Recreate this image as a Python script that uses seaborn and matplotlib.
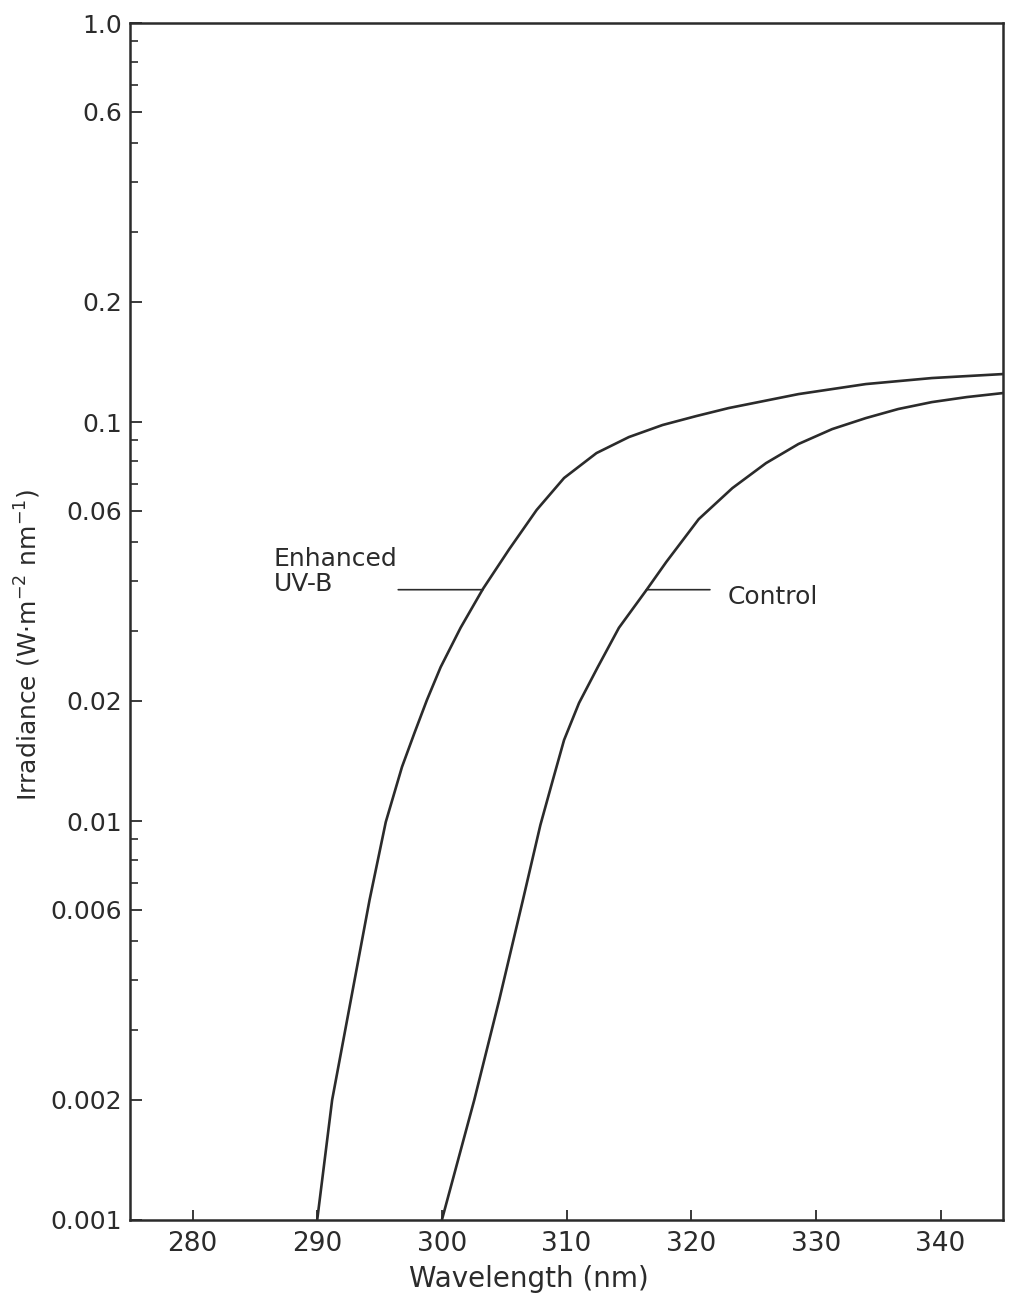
import numpy as np
import pandas as pd
import matplotlib.pyplot as plt
import matplotlib.ticker as mticker
import seaborn as sns

# Spectral irradiance
enhanced_nm = [290.0, 291.2, 292.7, 294.2, 295.5, 296.8, 297.8, 298.8, 299.9, 301.5, 303.3, 305.4,
               307.6, 309.8, 312.4, 315.0, 317.7, 320.4, 323.0, 328.6, 334.0, 339.3, 345.0]
enhanced_irr = [0.001, 0.00200, 0.00356, 0.00634, 0.00994, 0.01366, 0.01662, 0.0201, 0.0243, 0.0305,
                0.0382, 0.0480, 0.0602, 0.0724, 0.0836, 0.0917, 0.0983, 0.1035, 0.1084, 0.1175,
                0.1245, 0.1289, 0.1319]

control_nm = [300.0, 302.6, 304.6, 306.5, 307.9, 308.9, 309.8, 311.0, 312.5, 314.2, 316.4,
              318.0, 320.6, 323.3, 326.0, 328.6, 331.3, 334.0, 336.6, 339.3, 342.1, 345.0]
control_irr = [0.001, 0.00200, 0.00356, 0.00634, 0.00977, 0.01267, 0.01596, 0.01976, 0.0243, 0.0305,
               0.0379, 0.0446, 0.0571, 0.0683, 0.0789, 0.0881, 0.0960, 0.1023, 0.1078, 0.1122,
               0.1155, 0.1182]

x_ticks = [280, 290, 300, 310, 320, 330, 340]
y_ticks = [1.0, 0.6, 0.2, 0.1, 0.06, 0.02, 0.01, 0.006, 0.002, 0.001]
y_tick_labels = ["1.0", "0.6", "0.2", "0.1", "0.06", "0.02", "0.01", "0.006", "0.002", "0.001"]

df = pd.concat([
    pd.DataFrame({"wavelength": enhanced_nm, "irradiance": enhanced_irr, "series": "Enhanced UV-B"}),
    pd.DataFrame({"wavelength": control_nm, "irradiance": control_irr, "series": "Control"}),
])

sns.set_style("white")
plt.rcParams["font.family"] = ["DejaVu Sans"]
ink = "#2b2b2b"

fig = plt.figure(figsize=(10.09, 13.03), dpi=100)
ax = fig.add_axes([0.129, 0.0637, 0.865, 0.9186])

sns.lineplot(data=df, x="wavelength", y="irradiance", hue="series",
             palette={"Enhanced UV-B": ink, "Control": ink},
             estimator=None, sort=True, linewidth=1.9, legend=False, ax=ax)

ax.set_yscale("log")
ax.set_xlim(275, 345)
ax.set_ylim(0.001, 1.0)

ax.yaxis.set_major_locator(mticker.FixedLocator(y_ticks))
ax.yaxis.set_major_formatter(mticker.FixedFormatter(y_tick_labels))
ax.yaxis.set_minor_locator(mticker.LogLocator(base=10, subs=np.arange(2, 10)))
ax.yaxis.set_minor_formatter(mticker.NullFormatter())
ax.set_xticks(x_ticks)
ax.set_xticklabels([str(t) for t in x_ticks])
ax.xaxis.set_minor_locator(mticker.NullLocator())

ax.tick_params(axis="y", which="both", left=True, right=False)
ax.tick_params(axis="x", which="both", bottom=True, top=False)
ax.tick_params(axis="y", which="major", direction="in", length=8.6, width=1.3,
               labelsize=18, pad=6, colors=ink)
ax.tick_params(axis="y", which="minor", direction="in", length=5.8, width=1.2, colors=ink)
ax.tick_params(axis="x", which="major", direction="in", length=7, width=1.3,
               labelsize=19, pad=8, colors=ink)

for side in ["left", "bottom", "right", "top"]:
    ax.spines[side].set_visible(True)
    ax.spines[side].set_linewidth(1.8)
    ax.spines[side].set_color(ink)

ax.set_xlabel("Wavelength (nm)", fontsize=20, color=ink)
ax.xaxis.set_label_coords(0.457, -0.038)
ax.set_ylabel("")
fig.text(28 / 1009, 1 - 645 / 1303, "Irradiance (W\u00b7m$^{-2}$ nm$^{-1}$)",
         fontsize=18, color=ink, rotation=90, ha="center", va="center")

# curve labels with leader lines
ax.text(286.5, 0.0421, "Enhanced\nUV-B", fontsize=18, color=ink,
        ha="left", va="center", linespacing=1.05)
ax.annotate("", xy=(303.3, 0.038), xytext=(296.5, 0.038),
            arrowprops=dict(arrowstyle="-", color=ink, lw=1.2, shrinkA=0, shrinkB=0))
ax.annotate("", xy=(316.4, 0.038), xytext=(321.5, 0.038),
            arrowprops=dict(arrowstyle="-", color=ink, lw=1.2, shrinkA=0, shrinkB=0))
ax.text(322.9, 0.0364, "Control", fontsize=18, color=ink, ha="left", va="center")

fig.savefig("out.png", dpi=100, facecolor="white")
